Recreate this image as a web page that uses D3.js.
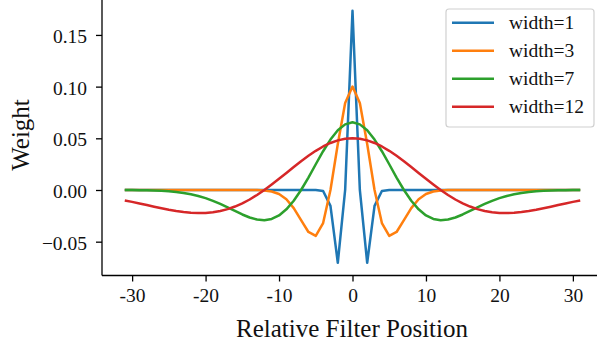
<!DOCTYPE html>
<html><head><meta charset="utf-8">
<script src="https://cdn.jsdelivr.net/npm/d3@7"></script>
<style>html,body{margin:0;padding:0;background:#fff;overflow:hidden}</style>
</head><body>
<svg id="c" width="597" height="347"></svg>
<script>
const positions = [-31,-30,-29,-28,-27,-26,-25,-24,-23,-22,-21,-20,-19,-18,-17,-16,-15,-14,-13,-12,-11,-10,-9,-8,-7,-6,-5,-4,-3,-2,-1,0,1,2,3,4,5,6,7,8,9,10,11,12,13,14,15,16,17,18,19,20,21,22,23,24,25,26,27,28,29,30,31];
const seriesNames = ["width=1","width=3","width=7","width=12"];
const colors = ["#1f77b4","#ff7f0e","#2ca02c","#d62728"];
const width1 = [0,0,0,0,0,0,0,0,0,0,0,0,0,0,0,0,0,0,0,0,0,0,0,0,0,0,0,
  -0.0009,-0.0154,-0.0704,0,0.1734,0,-0.0704,-0.0154,-0.0009,
  0,0,0,0,0,0,0,0,0,0,0,0,0,0,0,0,0,0,0,0,0,0,0,0,0,0,0];
const width3 = [0,0,0,0,0,0,0,0,0,0,0,0,0,0,0,0,0,0,
  -0.0001,-0.0005,-0.0015,-0.0039,-0.0089,-0.0175,-0.0292,-0.0406,-0.0444,-0.0320,0,0.0445,0.0842,0.1001,
  0.0842,0.0445,0,-0.0320,-0.0444,-0.0406,-0.0292,-0.0175,-0.0089,-0.0039,-0.0015,-0.0005,-0.0001,
  0,0,0,0,0,0,0,0,0,0,0,0,0,0,0,0,0,0];
const width7 = [-0.0001,-0.0001,-0.0002,-0.0003,-0.0005,-0.0008,-0.0013,-0.0020,-0.0029,-0.0042,-0.0058,-0.0079,-0.0105,-0.0135,-0.0168,-0.0203,-0.0237,-0.0266,-0.0286,-0.0292,-0.0280,-0.0246,-0.0187,-0.0104,0,0.0120,0.0249,0.0375,0.0488,0.0578,0.0635,0.0655,
  0.0635,0.0578,0.0488,0.0375,0.0249,0.0120,0,-0.0104,-0.0187,-0.0246,-0.0280,-0.0292,-0.0286,-0.0266,-0.0237,-0.0203,-0.0168,-0.0135,-0.0105,-0.0079,-0.0058,-0.0042,-0.0029,-0.0020,-0.0013,-0.0008,-0.0005,-0.0003,-0.0002,-0.0001,-0.0001];
const width12 = [-0.0101,-0.0115,-0.0131,-0.0146,-0.0162,-0.0177,-0.0191,-0.0203,-0.0213,-0.0220,-0.0223,-0.0222,-0.0215,-0.0203,-0.0185,-0.0160,-0.0129,-0.0092,-0.0048,0,0.0053,0.0108,0.0165,0.0223,0.0279,0.0331,0.0379,0.0421,0.0455,0.0480,0.0495,0.0501,
  0.0495,0.0480,0.0455,0.0421,0.0379,0.0331,0.0279,0.0223,0.0165,0.0108,0.0053,0,-0.0048,-0.0092,-0.0129,-0.0160,-0.0185,-0.0203,-0.0215,-0.0222,-0.0223,-0.0220,-0.0213,-0.0203,-0.0191,-0.0177,-0.0162,-0.0146,-0.0131,-0.0115,-0.0101];
const xTicks = [-30,-20,-10,0,10,20,30];
const yTicks = [-0.05,0.00,0.05,0.10,0.15];
const xLabel = "Relative Filter Position";
const yLabel = "Weight";

const series = [width1,width3,width7,width12];
const font = "'Liberation Serif','Times New Roman',serif";
const svg = d3.select("#c");
const left = 102, bottom = 275.5;
const x = d3.scaleLinear().domain([-34.1,34.1]).range([left,603]);
const y = d3.scaleLinear().domain([-0.0832,0.1838]).range([276,0]);

const line = d3.line().x((d,i)=>x(positions[i])).y(d=>y(d));
series.forEach((s,k)=>{
  svg.append("path").datum(s).attr("d",line).attr("fill","none")
    .attr("stroke",colors[k]).attr("stroke-width",2.5).attr("stroke-linejoin","round").attr("stroke-linecap","butt");
});

// axes
const xAxis = d3.axisBottom(x).tickValues(xTicks).tickSize(6).tickPadding(7).tickFormat(d=>String(d));
const gx = svg.append("g").attr("transform",`translate(0,${bottom})`).call(xAxis);
gx.select(".domain").attr("d",`M${left},0H600`).attr("stroke","#000").attr("stroke-width",1.3);
gx.selectAll(".tick line").attr("stroke","#000").attr("stroke-width",1.3);
gx.selectAll(".tick text").attr("font-family",font).attr("font-size",19.5).attr("fill","#111");

const yAxis = d3.axisLeft(y).tickValues(yTicks).tickSize(6).tickPadding(9).tickFormat(d3.format(".2f"));
const gy = svg.append("g").attr("transform",`translate(${left},0)`).call(yAxis);
gy.select(".domain").attr("d",`M0,0V${bottom}`).attr("stroke","#000").attr("stroke-width",1.3);
gy.selectAll(".tick line").attr("stroke","#000").attr("stroke-width",1.3);
gy.selectAll(".tick text").attr("font-family",font).attr("font-size",19.5).attr("fill","#111").attr("dy","0.38em");

svg.append("text").attr("x",352).attr("y",337).attr("text-anchor","middle")
  .attr("font-family",font).attr("font-size",25).attr("fill","#111").text(xLabel);
svg.append("text").attr("transform","translate(29,135) rotate(-90)").attr("text-anchor","middle")
  .attr("font-family",font).attr("font-size",25).attr("fill","#111").text(yLabel);

// legend
const lg = svg.append("g");
lg.append("rect").attr("x",446).attr("y",9).attr("width",148).attr("height",118).attr("rx",3)
  .attr("fill","#fff").attr("fill-opacity",0.8).attr("stroke","#d0d0d0").attr("stroke-width",1.2);
seriesNames.forEach((n,k)=>{
  const yy = 22.7 + k*28;
  lg.append("line").attr("x1",452).attr("x2",494).attr("y1",yy).attr("y2",yy)
    .attr("stroke",colors[k]).attr("stroke-width",2.5);
  lg.append("text").attr("x",509).attr("y",yy).attr("dy","0.33em")
    .attr("font-family",font).attr("font-size",19.5).attr("fill","#111").text(n);
});
</script>
</body></html>
